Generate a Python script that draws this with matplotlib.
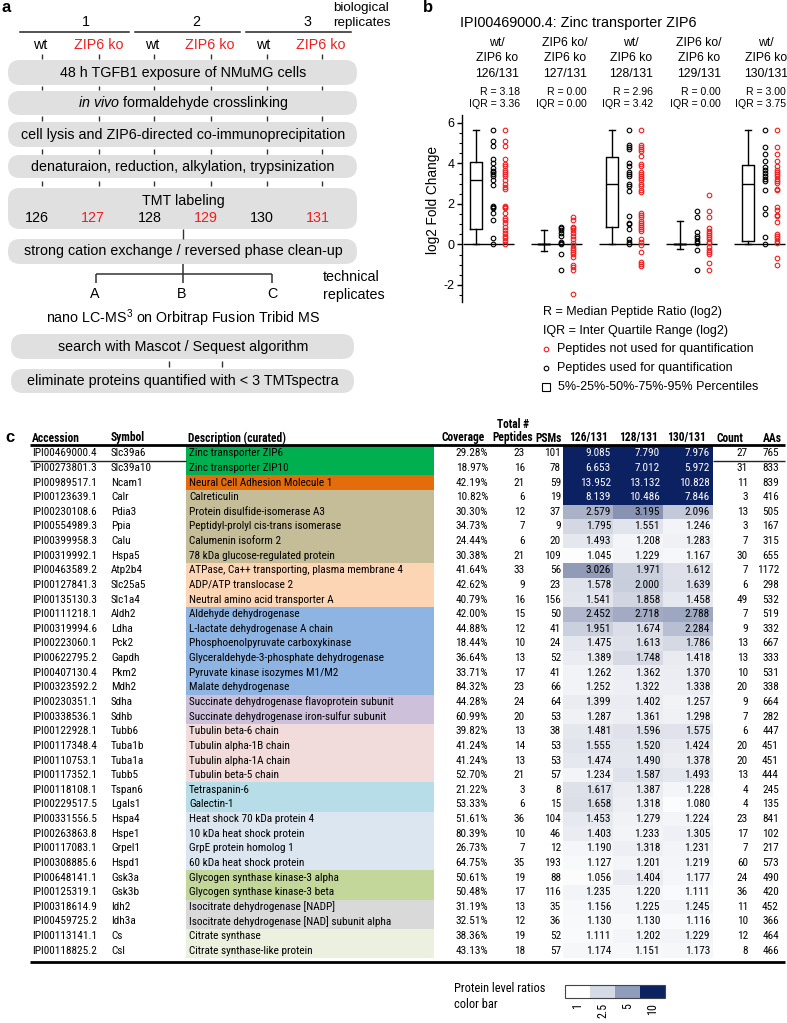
import numpy as np
import matplotlib
matplotlib.use('Agg')
import matplotlib.pyplot as plt
from matplotlib.patches import FancyBboxPatch
from matplotlib.colors import LinearSegmentedColormap, Normalize
from matplotlib import font_manager as fm
from matplotlib.ticker import MultipleLocator

# ======================= DATA =======================
# panel a
replicates = ['1', '2', '3']
conditions = ['wt', 'ZIP6 ko', 'wt', 'ZIP6 ko', 'wt', 'ZIP6 ko']
tmt_channels = ['126', '127', '128', '129', '130', '131']
workflow_steps = [
    '48 h TGFB1 exposure of NMuMG cells',
    r'$\mathit{in\ vivo}$ formaldehyde crosslinking',
    'cell lysis and ZIP6-directed co-immunoprecipitation',
    'denaturaion, reduction, alkylation, trypsinization',
]
tmt_title = 'TMT labeling'
cleanup_step = 'strong cation exchange / reversed phase clean-up'
tech_reps = ['A', 'B', 'C']
ms_step = r'nano LC-MS$^{3}$ on Orbitrap Fusion Tribid MS'
final_steps = ['search with Mascot / Sequest algorithm',
               'eliminate proteins quantified with < 3 TMTspectra']

# panel b
ratio_top = ['wt/', 'ZIP6 ko/', 'wt/', 'ZIP6 ko/', 'wt/']
ratio_mid = ['ZIP6 ko', 'ZIP6 ko', 'ZIP6 ko', 'ZIP6 ko', 'ZIP6 ko']
ratio_channels = ['126/131', '127/131', '128/131', '129/131', '130/131']
R_values = ['3.18', '0.00', '2.96', '0.00', '3.00']
IQR_values = ['3.36', '0.00', '3.42', '0.00', '3.75']
p05 = [0.0, -0.30, 0.0, -0.20, 0.0]
p25 = [0.74, 0.0, 0.86, 0.0, 0.18]
p50 = [3.17, 0.0, 2.96, 0.0, 2.98]
p75 = [4.07, 0.0, 4.30, 0.0, 3.93]
p95 = [5.64, 0.71, 5.64, 1.16, 5.64]
used_peptides = [
    [5.64, 5.09, 4.88, 4.23, 4.01, 3.76, 3.65, 3.57, 3.49, 3.39, 3.19, 2.94,
     1.92, 1.87, 1.82, 1.57, 1.21, 0.30, 0.0],
    [0.88, 0.79, 0.71, 0.58, 0.41, 0.13, 0.05, 0.0, -0.48, -1.24],
    [5.64, 4.89, 4.81, 4.71, 4.02, 3.85, 3.57, 3.49, 3.40, 2.99, 2.89, 2.64,
     1.40, 1.07, 0.99, 0.74, 0.25, 0.10, 0.0],
    [1.67, 1.37, 0.60, 0.41, 0.30, 0.18, 0.05, -0.28, -1.24],
    [5.64, 4.81, 4.48, 4.10, 3.82, 3.69, 3.52, 3.36, 3.22, 3.11, 2.69, 1.82,
     1.50, 0.38, 0.0],
]
unused_peptides = [
    [5.64, 5.09, 4.88, 4.23, 3.97, 3.85, 3.69, 3.57, 3.47, 3.36, 3.19, 2.99,
     2.86, 2.74, 1.92, 1.87, 1.79, 1.54, 1.29, 1.21, 1.04, 0.84, 0.71, 0.55,
     0.41, 0.30, 0.17, 0.0],
    [1.34, 1.21, 0.88, 0.79, 0.71, 0.58, 0.41, 0.25, 0.08, -0.03, -0.15, -0.25,
     -0.36, -0.48, -0.61, -1.02, -1.11, -1.24, -2.43],
    [5.64, 4.93, 4.81, 4.71, 4.60, 4.35, 3.98, 3.85, 3.57, 3.49, 3.40, 3.27,
     3.16, 2.99, 2.89, 2.69, 2.61, 1.57, 1.45, 1.34, 1.16, 1.04, 0.96, 0.88,
     0.78, 0.68, 0.25, 0.10, -0.03, -0.36, -0.86, -0.98, -1.07],
    [2.45, 1.67, 1.37, 0.79, 0.68, 0.58, 0.46, 0.38, 0.25, 0.13, 0.05, -0.12,
     -0.25, -0.36, -0.48, -0.91, -1.24],
    [5.64, 4.81, 4.48, 4.10, 3.85, 3.69, 3.57, 3.47, 3.36, 3.24, 3.14, 3.02,
     2.74, 2.69, 1.83, 1.70, 1.45, 1.40, 1.12, 0.51, 0.41, 0.30, 0.18, 0.05,
     -0.66, -0.99],
]
y_ticks = [-2, 0, 2, 4, 6]

# panel c
table_headers = ['Accession', 'Symbol', 'Description (curated)', 'Coverage',
                 'Peptides', 'PSMs', '126/131', '128/131', '130/131', 'Count', 'AAs']
accessions = ['IPI00469000.4', 'IPI00273801.3', 'IPI00989517.1', 'IPI00123639.1',
              'IPI00230108.6', 'IPI00554989.3', 'IPI00399958.3', 'IPI00319992.1',
              'IPI00463589.2', 'IPI00127841.3', 'IPI00135130.3', 'IPI00111218.1',
              'IPI00319994.6', 'IPI00223060.1', 'IPI00622795.2', 'IPI00407130.4',
              'IPI00323592.2', 'IPI00230351.1', 'IPI00338536.1', 'IPI00122928.1',
              'IPI00117348.4', 'IPI00110753.1', 'IPI00117352.1', 'IPI00118108.1',
              'IPI00229517.5', 'IPI00331556.5', 'IPI00263863.8', 'IPI00117083.1',
              'IPI00308885.6', 'IPI00648141.1', 'IPI00125319.1', 'IPI00318614.9',
              'IPI00459725.2', 'IPI00113141.1', 'IPI00118825.2']
symbols = ['Slc39a6', 'Slc39a10', 'Ncam1', 'Calr', 'Pdia3', 'Ppia', 'Calu', 'Hspa5',
           'Atp2b4', 'Slc25a5', 'Slc1a4', 'Aldh2', 'Ldha', 'Pck2', 'Gapdh', 'Pkm2',
           'Mdh2', 'Sdha', 'Sdhb', 'Tubb6', 'Tuba1b', 'Tuba1a', 'Tubb5', 'Tspan6',
           'Lgals1', 'Hspa4', 'Hspe1', 'Grpel1', 'Hspd1', 'Gsk3a', 'Gsk3b', 'Idh2',
           'Idh3a', 'Cs', 'Csl']
descriptions = ['Zinc transporter ZIP6', 'Zinc transporter ZIP10',
                'Neural Cell Adhesion Molecule 1', 'Calreticulin',
                'Protein disulfide-isomerase A3', 'Peptidyl-prolyl cis-trans isomerase',
                'Calumenin isoform 2', '78 kDa glucose-regulated protein',
                'ATPase, Ca++ transporting, plasma membrane 4', 'ADP/ATP translocase 2',
                'Neutral amino acid transporter A', 'Aldehyde dehydrogenase',
                'L-lactate dehydrogenase A chain', 'Phosphoenolpyruvate carboxykinase',
                'Glyceraldehyde-3-phosphate dehydrogenase', 'Pyruvate kinase isozymes M1/M2',
                'Malate dehydrogenase', 'Succinate dehydrogenase flavoprotein subunit',
                'Succinate dehydrogenase iron-sulfur subunit', 'Tubulin beta-6 chain',
                'Tubulin alpha-1B chain', 'Tubulin alpha-1A chain', 'Tubulin beta-5 chain',
                'Tetraspanin-6', 'Galectin-1', 'Heat shock 70 kDa protein 4',
                '10 kDa heat shock protein', 'GrpE protein homolog 1',
                '60 kDa heat shock protein', 'Glycogen synthase kinase-3 alpha',
                'Glycogen synthase kinase-3 beta', 'Isocitrate dehydrogenase [NADP]',
                'Isocitrate dehydrogenase [NAD] subunit alpha', 'Citrate synthase',
                'Citrate synthase-like protein']
categories = ['zinc', 'zinc', 'ncam', 'er', 'er', 'er', 'er', 'er',
              'transport', 'transport', 'transport',
              'glyco', 'glyco', 'glyco', 'glyco', 'glyco', 'glyco',
              'sdh', 'sdh', 'tub', 'tub', 'tub', 'tub', 'tspan', 'tspan',
              'hsp', 'hsp', 'hsp', 'hsp', 'gsk', 'gsk', 'idh', 'idh', 'cs', 'cs']
coverage = [29.28, 18.97, 42.19, 10.82, 30.30, 34.73, 24.44, 30.38, 41.64, 42.62,
            40.79, 42.00, 44.88, 18.44, 36.64, 33.71, 84.32, 44.28, 60.99, 39.82,
            41.24, 41.24, 52.70, 21.22, 53.33, 51.61, 80.39, 26.73, 64.75, 50.61,
            50.48, 31.19, 32.51, 38.36, 43.13]
peptides = [23, 16, 21, 6, 12, 7, 6, 21, 33, 9, 16, 15, 12, 10, 13, 17, 23, 24, 20,
            13, 14, 13, 21, 3, 6, 36, 10, 7, 35, 19, 17, 13, 12, 19, 18]
psms = [101, 78, 59, 19, 37, 9, 20, 109, 56, 23, 156, 50, 41, 24, 52, 41, 66, 64, 53,
        38, 53, 53, 57, 8, 15, 104, 46, 12, 193, 88, 116, 35, 36, 52, 57]
ratio_126 = [9.085, 6.653, 13.952, 8.139, 2.579, 1.795, 1.493, 1.045, 3.026, 1.578,
             1.541, 2.452, 1.951, 1.475, 1.389, 1.262, 1.252, 1.399, 1.287, 1.481,
             1.555, 1.474, 1.234, 1.617, 1.658, 1.453, 1.403, 1.190, 1.127, 1.056,
             1.235, 1.156, 1.130, 1.111, 1.174]
ratio_128 = [7.790, 7.012, 13.132, 10.486, 3.195, 1.551, 1.208, 1.229, 1.971, 2.000,
             1.858, 2.718, 1.674, 1.613, 1.748, 1.362, 1.322, 1.402, 1.361, 1.596,
             1.520, 1.490, 1.587, 1.387, 1.318, 1.279, 1.233, 1.318, 1.201, 1.404,
             1.220, 1.225, 1.130, 1.202, 1.151]
ratio_130 = [7.976, 5.972, 10.828, 7.846, 2.096, 1.246, 1.283, 1.167, 1.612, 1.639,
             1.458, 2.788, 2.284, 1.786, 1.418, 1.370, 1.338, 1.257, 1.298, 1.575,
             1.424, 1.378, 1.493, 1.228, 1.080, 1.224, 1.305, 1.231, 1.219, 1.177,
             1.111, 1.245, 1.116, 1.229, 1.173]
counts = [27, 31, 11, 3, 13, 3, 7, 30, 7, 6, 49, 7, 9, 13, 13, 10, 20, 9, 7, 6, 20,
          20, 13, 4, 4, 23, 17, 7, 60, 24, 36, 11, 10, 12, 8]
aas = [765, 833, 839, 416, 505, 167, 315, 655, 1172, 298, 532, 519, 332, 667, 333,
       531, 338, 664, 282, 447, 451, 451, 444, 245, 135, 841, 102, 217, 573, 490, 420,
       452, 366, 464, 466]
colorbar_ticks = ['1', '2.5', '5', '10']

# ======================= STYLE =======================
W, H = 787, 1023
RED = '#f01e1e'
GRAY = '#e0e0e0'
cat_colors = {'zinc': '#00b050', 'ncam': '#e46c0a', 'er': '#c4bd97',
              'transport': '#fcd5b4', 'glyco': '#8db4e2', 'sdh': '#ccc0da',
              'tub': '#f2dcdb', 'tspan': '#b7dee8', 'hsp': '#dce6f1',
              'gsk': '#c4d79b', 'idh': '#d9d9d9', 'cs': '#ebf1de'}
colorbar_colors = ['#ffffff', '#d5dae4', '#8f9cba', '#0c2260']
heat_cmap = LinearSegmentedColormap.from_list('heat', ['#ffffff', '#0b2162'])
heat_norm = Normalize(1.0, 5.5, clip=True)


def have(name):
    try:
        fm.findfont(fm.FontProperties(family=name), fallback_to_default=False)
        return True
    except Exception:
        return False


narrow = None
for cand in ['Liberation Sans Narrow', 'Roboto Condensed', 'DejaVu Sans Condensed',
             'Open Sans Condensed']:
    if have(cand):
        narrow = cand
        break
if narrow:
    TF = [narrow, 'DejaVu Sans']
    TFS = 8.1
else:
    TF = ['Liberation Sans', 'DejaVu Sans']
    TFS = 6.9

plt.rcParams['font.family'] = ['Liberation Sans', 'DejaVu Sans']
plt.rcParams['axes.unicode_minus'] = False
plt.rcParams['mathtext.fontset'] = 'custom'
plt.rcParams['mathtext.rm'] = 'Liberation Sans'
plt.rcParams['mathtext.it'] = 'Liberation Sans:italic'

fig = plt.figure(figsize=(W / 100, H / 100), dpi=100)
ov = fig.add_axes([0, 0, 1, 1])
ov.set_xlim(0, W)
ov.set_ylim(H, 0)
ov.axis('off')


def T(x, y, s, **kw):
    kw.setdefault('va', 'center')
    kw.setdefault('ha', 'center')
    return ov.text(x, y, s, **kw)


def pill(x0, y0, x1, y1, r=12):
    ov.add_patch(FancyBboxPatch((x0, y0), x1 - x0, y1 - y0,
                                boxstyle=f'round,pad=0,rounding_size={r}',
                                fc=GRAY, ec='none', zorder=1))


# ======================= PANEL A =======================
FA = 10.3
T(2, 8, 'a', fontsize=12, fontweight='bold', ha='left')
rep_x = [86, 196, 307]
rep_lines = [(20, 129), (135, 240), (246, 351)]
for x, s, (a, b) in zip(rep_x, replicates, rep_lines):
    T(x, 22, s, fontsize=FA)
    ov.plot([a, b], [32, 32], color='#222', lw=1.1)
T(333, 8, 'biological', fontsize=9.6, ha='left')
T(333, 23, 'replicates', fontsize=9.6, ha='left')
cond_x = [40, 99, 152, 210, 263, 321]
for x, s in zip(cond_x, conditions):
    T(x, 45, s, fontsize=FA, color=RED if 'ko' in s else 'black')

tick_x = [42, 99, 154, 211, 267, 322]
for (g0, g1) in [(54, 59), (86, 90), (116, 121), (149, 154), (181, 186)]:
    ov.vlines(tick_x, g0, g1, color='#333', lw=1)

boxes = [(60, 85), (91, 115), (122, 147), (155, 178)]
for (y0, y1), s in zip(boxes, workflow_steps):
    pill(8, y0, 357, y1)
    T(183, (y0 + y1) / 2, s, fontsize=FA)
pill(8, 188, 357, 229)
T(183, 201, tmt_title, fontsize=FA)
chan_x = [37, 93, 150, 206, 262, 318]
for x, s, c in zip(chan_x, tmt_channels, conditions):
    T(x, 218, s, fontsize=FA, color=RED if 'ko' in c else 'black')
ov.vlines(183, 229, 239, color='#333', lw=1)
pill(8, 239, 357, 264)
T(183, 251.5, cleanup_step, fontsize=FA)
ov.vlines(183, 264, 283, color='#333', lw=1.1)
ov.hlines(274, 96, 272, color='#333', lw=1.1)
ov.vlines([96, 272], 274, 283, color='#333', lw=1.1)
for x, s in zip([95, 182, 272], tech_reps):
    T(x, 294, s, fontsize=FA)
T(323, 277, 'technical', fontsize=FA, ha='left')
T(323, 295, 'replicates', fontsize=FA, ha='left')
T(183, 318, ms_step, fontsize=FA)
pill(11, 334, 354, 359)
T(183, 346.5, final_steps[0], fontsize=FA)
ov.vlines([169, 222], 361, 367, color='#333', lw=1)
pill(11, 369, 354, 393)
T(183, 381, final_steps[1], fontsize=FA)

# ======================= PANEL B =======================
T(423, 8, 'b', fontsize=12, fontweight='bold', ha='left')
T(460, 23, 'IPI00469000.4: Zinc transporter ZIP6', fontsize=10.4, ha='left')
col_x = [497, 565, 631, 699, 766]
R_right = [520, 587, 653, 721, 786]
for i in range(5):
    T(col_x[i], 43, ratio_top[i], fontsize=8.8)
    T(col_x[i], 58, ratio_mid[i], fontsize=8.8)
    T(col_x[i], 74, ratio_channels[i], fontsize=8.8)
    T(R_right[i], 92, 'R = ' + R_values[i], fontsize=7.6, ha='right')
    T(R_right[i], 104, 'IQR = ' + IQR_values[i], fontsize=7.6, ha='right')

ax = fig.add_axes([462 / W, 1 - 302 / H, (786 - 462) / W, (302 - 115) / H])
ax.patch.set_alpha(0)
pos = np.arange(5)
stats = [dict(whislo=a, q1=b, med=c, q3=d, whishi=e)
         for a, b, c, d, e in zip(p05, p25, p50, p75, p95)]
lp = dict(color='black', lw=1.0)
ax.bxp(stats, positions=pos, widths=0.18, capwidths=0.09, showfliers=False,
       boxprops=lp, medianprops=lp, whiskerprops=lp, capprops=lp,
       manage_ticks=False)
ax.hlines([0] * 5, pos - 0.2, pos + 0.55, color='black', lw=1.0, zorder=1)
for i in range(5):
    ax.plot(np.full(len(used_peptides[i]), i + 0.25), used_peptides[i], 'o',
            mfc='none', mec='black', ms=3.3, mew=0.8, zorder=3)
    ax.plot(np.full(len(unused_peptides[i]), i + 0.43), unused_peptides[i], 'o',
            mfc='none', mec=RED, ms=3.3, mew=0.8, zorder=3)
ax.set_xlim(-0.21, 4.56)
ax.set_ylim(-2.84, 6.39)
for sp in ['top', 'right', 'bottom']:
    ax.spines[sp].set_visible(False)
ax.spines['left'].set_linewidth(1.0)
ax.set_xticks([])
ax.set_yticks(y_ticks)
ax.yaxis.set_minor_locator(MultipleLocator(0.5))
ax.tick_params(axis='y', which='major', length=3.5, width=1, labelsize=9, pad=2)
ax.tick_params(axis='y', which='minor', length=2, width=0.8)
T(433, 200, 'log2 Fold Change', fontsize=9.8, rotation=90)

# legend of panel b
T(543, 312, 'R = Median Peptide Ratio (log2)', fontsize=9, ha='left')
T(543, 331, 'IQR = Inter Quartile Range (log2)', fontsize=9, ha='left')
ov.plot([546], [349], 'o', mfc='none', mec=RED, ms=3.3, mew=0.8)
T(557, 349, 'Peptides not used for quantification', fontsize=9, ha='left')
ov.plot([546], [368], 'o', mfc='none', mec='black', ms=3.3, mew=0.8)
T(557, 368, 'Peptides used for quantification', fontsize=9, ha='left')
ov.plot([546], [387], 's', mfc='white', mec='black', ms=5.2, mew=0.8)
T(558, 387, '5%-25%-50%-75%-95% Percentiles', fontsize=9, ha='left')

# ======================= PANEL C =======================
T(5, 437, 'c', fontsize=12, fontweight='bold', ha='left')
HFS = TFS + 0.2
hkw = dict(fontsize=HFS, fontweight='bold', family=TF)
T(32, 438, table_headers[0], ha='left', **hkw)
T(111, 438, table_headers[1], ha='left', **hkw)
T(188, 438, table_headers[2], ha='left', **hkw)
T(463, 438, table_headers[3], **hkw)
T(513, 425, 'Total #', **hkw)
T(513, 438, table_headers[4], **hkw)
T(549, 438, table_headers[5], **hkw)
T(588, 438, table_headers[6], **hkw)
T(638, 438, table_headers[7], **hkw)
T(687, 438, table_headers[8], **hkw)
T(730, 438, table_headers[9], **hkw)
T(772, 438, table_headers[10], **hkw)

n = len(accessions)
row0, dy = 453.3, 14.63
rows_y = row0 + dy * np.arange(n)
# description colour cells
ov.barh(rows_y, 248, left=186, height=dy,
        color=[cat_colors[c] for c in categories], lw=0, zorder=1)
# heat cells
C = np.array([ratio_126, ratio_128, ratio_130]).T
ye = row0 - dy / 2 + dy * np.arange(n + 1)
ov.pcolormesh([563, 613, 663, 713], ye, C, cmap=heat_cmap, norm=heat_norm,
              zorder=1, edgecolors='none')

bkw = dict(fontsize=TFS, family=TF, zorder=3)
for i in range(n):
    y = rows_y[i]
    T(32, y, accessions[i], ha='left', **bkw)
    T(111, y, symbols[i], ha='left', **bkw)
    T(189, y, descriptions[i], ha='left', **bkw)
    T(488, y, f'{coverage[i]:.2f}%', ha='right', **bkw)
    T(525, y, str(peptides[i]), ha='right', **bkw)
    T(561, y, str(psms[i]), ha='right', **bkw)
    for xr, v in zip([611, 660, 710], C[i]):
        T(xr, y, f'{v:.3f}', ha='right', color='white' if v > 5 else 'black', **bkw)
    T(748, y, str(counts[i]), ha='right', **bkw)
    T(779, y, str(aas[i]), ha='right', **bkw)

ov.hlines(445, 30, 785, color='black', lw=2.0, zorder=4)
ov.hlines(460.6, 30, 186, color='#222', lw=1.0, zorder=4)
ov.hlines(460.6, 713, 785, color='#222', lw=1.0, zorder=4)
ov.hlines(962, 30, 785, color='black', lw=2.0, zorder=4)

# colour bar legend
T(454, 989, 'Protein level ratios', ha='left', fontsize=TFS + 0.8, family=TF)
T(454, 1004, 'color bar', ha='left', fontsize=TFS + 0.8, family=TF)
cb_x = 565 + 12.5 + 25 * np.arange(len(colorbar_ticks))
ov.bar(cb_x, 13, bottom=985, width=25, color=colorbar_colors, lw=0, zorder=2)
ov.add_patch(plt.Rectangle((565, 985), 100, 13, fill=False, ec='#444', lw=0.8, zorder=3))
for x, s in zip(cb_x, colorbar_ticks):
    T(x, 1003, s, rotation=90, va='top', fontsize=TFS + 0.6, family=TF)

fig.savefig('out.png', dpi=100)
